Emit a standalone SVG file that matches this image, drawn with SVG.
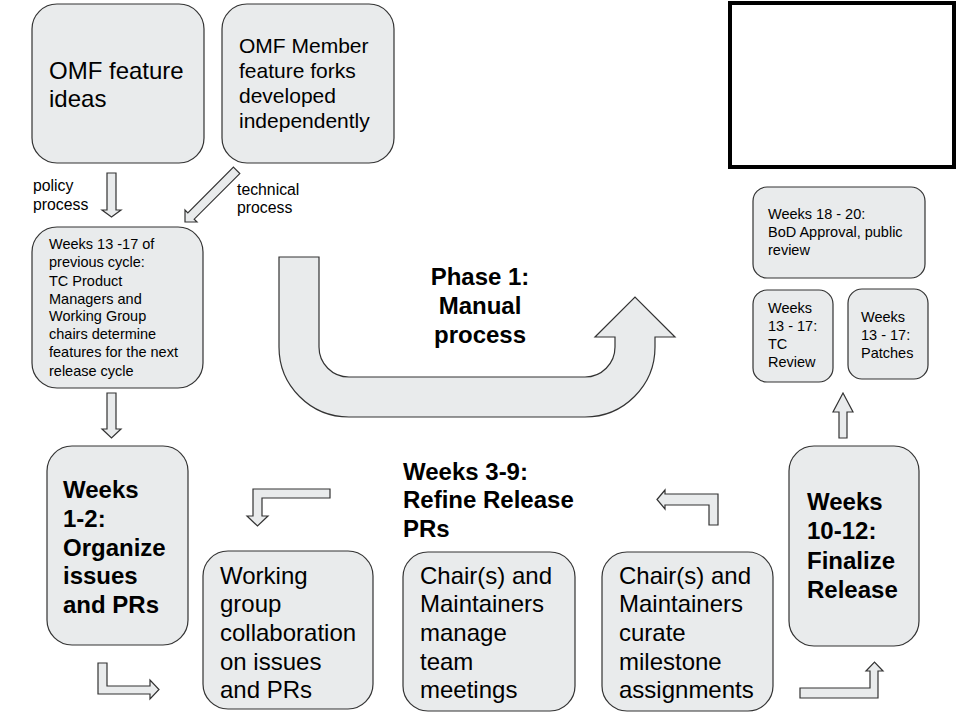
<svg xmlns="http://www.w3.org/2000/svg" width="960" height="720" viewBox="0 0 960 720">
<style>
.box{fill:#e9ebec;stroke:#333;stroke-width:1.2}
.arr{fill:#e9ebec;stroke:#333;stroke-width:1.2;stroke-linejoin:miter}
text{font-family:"Liberation Sans",Arial,sans-serif;fill:#000}
.t24{font-size:24px}
.t21{font-size:21px}
.t13{font-size:14.5px}
.t15{font-size:15.8px}
.b{font-weight:bold;font-size:24px}
</style>
<rect width="960" height="720" fill="#fff"/>

<g id="blank-frame"><rect x="730" y="3" width="224" height="164" fill="#fff" stroke="#000" stroke-width="4"/></g>

<g id="omf-ideas">
<rect class="box" x="32" y="4" width="172" height="159" rx="25"/>
<text class="t24" x="49" y="79">OMF feature</text>
<text class="t24" x="49" y="107">ideas</text>
</g>

<g id="omf-forks">
<rect class="box" x="222" y="4" width="172" height="159" rx="25"/>
<text class="t21" x="239" y="53">OMF Member</text>
<text class="t21" x="239" y="78">feature forks</text>
<text class="t21" x="239" y="103">developed</text>
<text class="t21" x="239" y="128">independently</text>
</g>

<g id="prev-cycle">
<rect class="box" x="32" y="227" width="171" height="161" rx="25"/>
<text class="t13" x="49" y="249">Weeks 13 -17 of</text>
<text class="t13" x="49" y="267">previous cycle:</text>
<text class="t13" x="49" y="286">TC Product</text>
<text class="t13" x="49" y="304">Managers and</text>
<text class="t13" x="49" y="321">Working Group</text>
<text class="t13" x="49" y="339">chairs determine</text>
<text class="t13" x="49" y="357">features for the next</text>
<text class="t13" x="49" y="376">release cycle</text>
</g>

<g id="weeks-1-2">
<rect class="box" x="47" y="446" width="141" height="199" rx="25"/>
<text class="b" x="63" y="498">Weeks</text>
<text class="b" x="63" y="527">1-2:</text>
<text class="b" x="63" y="556">Organize</text>
<text class="b" x="63" y="584">issues</text>
<text class="b" x="63" y="613">and PRs</text>
</g>

<g id="wg-collab">
<rect class="box" x="203" y="551" width="170" height="158" rx="25"/>
<text class="t24" x="220" y="584">Working</text>
<text class="t24" x="220" y="612">group</text>
<text class="t24" x="220" y="641">collaboration</text>
<text class="t24" x="220" y="670">on issues</text>
<text class="t24" x="220" y="698">and PRs</text>
</g>

<g id="refine-title">
<text class="b" x="403" y="480">Weeks 3-9:</text>
<text class="b" x="403" y="508">Refine Release</text>
<text class="b" x="403" y="537">PRs</text>
</g>

<g id="chairs-meetings">
<rect class="box" x="403" y="552" width="172" height="159" rx="25"/>
<text class="t24" x="420" y="584">Chair(s) and</text>
<text class="t24" x="420" y="612">Maintainers</text>
<text class="t24" x="420" y="641">manage</text>
<text class="t24" x="420" y="670">team</text>
<text class="t24" x="420" y="698">meetings</text>
</g>

<g id="chairs-milestones">
<rect class="box" x="602" y="552" width="171" height="159" rx="25"/>
<text class="t24" x="619" y="584">Chair(s) and</text>
<text class="t24" x="619" y="612">Maintainers</text>
<text class="t24" x="619" y="641">curate</text>
<text class="t24" x="619" y="670">milestone</text>
<text class="t24" x="619" y="698">assignments</text>
</g>

<g id="weeks-10-12">
<rect class="box" x="789" y="446" width="130" height="200" rx="25"/>
<text class="b" x="807" y="510">Weeks</text>
<text class="b" x="807" y="539">10-12:</text>
<text class="b" x="807" y="569">Finalize</text>
<text class="b" x="807" y="598">Release</text>
</g>

<g id="tc-review">
<rect class="box" x="753" y="290" width="80" height="92" rx="14"/>
<text class="t13" x="768" y="313">Weeks</text>
<text class="t13" x="768" y="331">13 - 17:</text>
<text class="t13" x="768" y="349">TC</text>
<text class="t13" x="768" y="367">Review</text>
</g>

<g id="patches">
<rect class="box" x="848" y="289" width="80" height="90" rx="14"/>
<text class="t13" x="861" y="322">Weeks</text>
<text class="t13" x="861" y="340">13 - 17:</text>
<text class="t13" x="861" y="358">Patches</text>
</g>

<g id="bod-approval">
<rect class="box" x="753" y="187" width="172" height="91" rx="14"/>
<text class="t13" x="768" y="219">Weeks 18 - 20:</text>
<text class="t13" x="768" y="237">BoD Approval, public</text>
<text class="t13" x="768" y="255">review</text>
</g>

<g id="connectors">
<path class="arr" d="M107,173 L116,173 L116,210 L121,210 L111.5,217 L102,210 L107,210 Z"/>
<path class="arr" transform="translate(185,222) rotate(45)" d="M-4.5,-73 L4.5,-73 L4.5,-8.5 L8.5,-8.5 L0,0 L-8.5,-8.5 L-4.5,-8.5 Z"/>
<path class="arr" d="M107,393 L116,393 L116,429 L121,429 L111.5,438 L102,429 L107,429 Z"/>
<path class="arr" d="M839,438 L847,438 L847,412 L853,412 L843,393 L833,412 L839,412 Z"/>
<path class="arr" d="M279,257 L319,257 L319,347 A30,30 0 0 0 349,377 L585,377 A30,30 0 0 0 615,347 L615,337 L595,337 L635,297 L675,337 L655,337 L655,347 A70,70 0 0 1 585,417 L349,417 A70,70 0 0 1 279,347 Z"/>
<path class="arr" d="M330,489 L253,489 L253,516 L247,516 L257.5,526 L268,516 L262,516 L262,498 L330,498 Z"/>
<path class="arr" d="M657,499.5 L665,490 L665,494 L718,494 L718,525 L709,525 L709,505 L665,505 L665,509 Z"/>
<path class="arr" d="M98,663 L107,663 L107,686 L150,686 L150,680 L159,689.5 L150,699 L150,694 L98,694 Z"/>
<path class="arr" d="M800,688 L870,688 L870,671 L866,671 L874.5,662 L883,671 L878,671 L878,698 L800,698 Z"/>
</g>

<g id="labels">
<text class="t15" x="33" y="191">policy</text>
<text class="t15" x="33" y="210">process</text>
<text class="t15" x="237" y="195">technical</text>
<text class="t15" x="237" y="213">process</text>
<text class="b" x="480" y="285" text-anchor="middle">Phase 1:</text>
<text class="b" x="480" y="314" text-anchor="middle">Manual</text>
<text class="b" x="480" y="343" text-anchor="middle">process</text>
</g>
</svg>
